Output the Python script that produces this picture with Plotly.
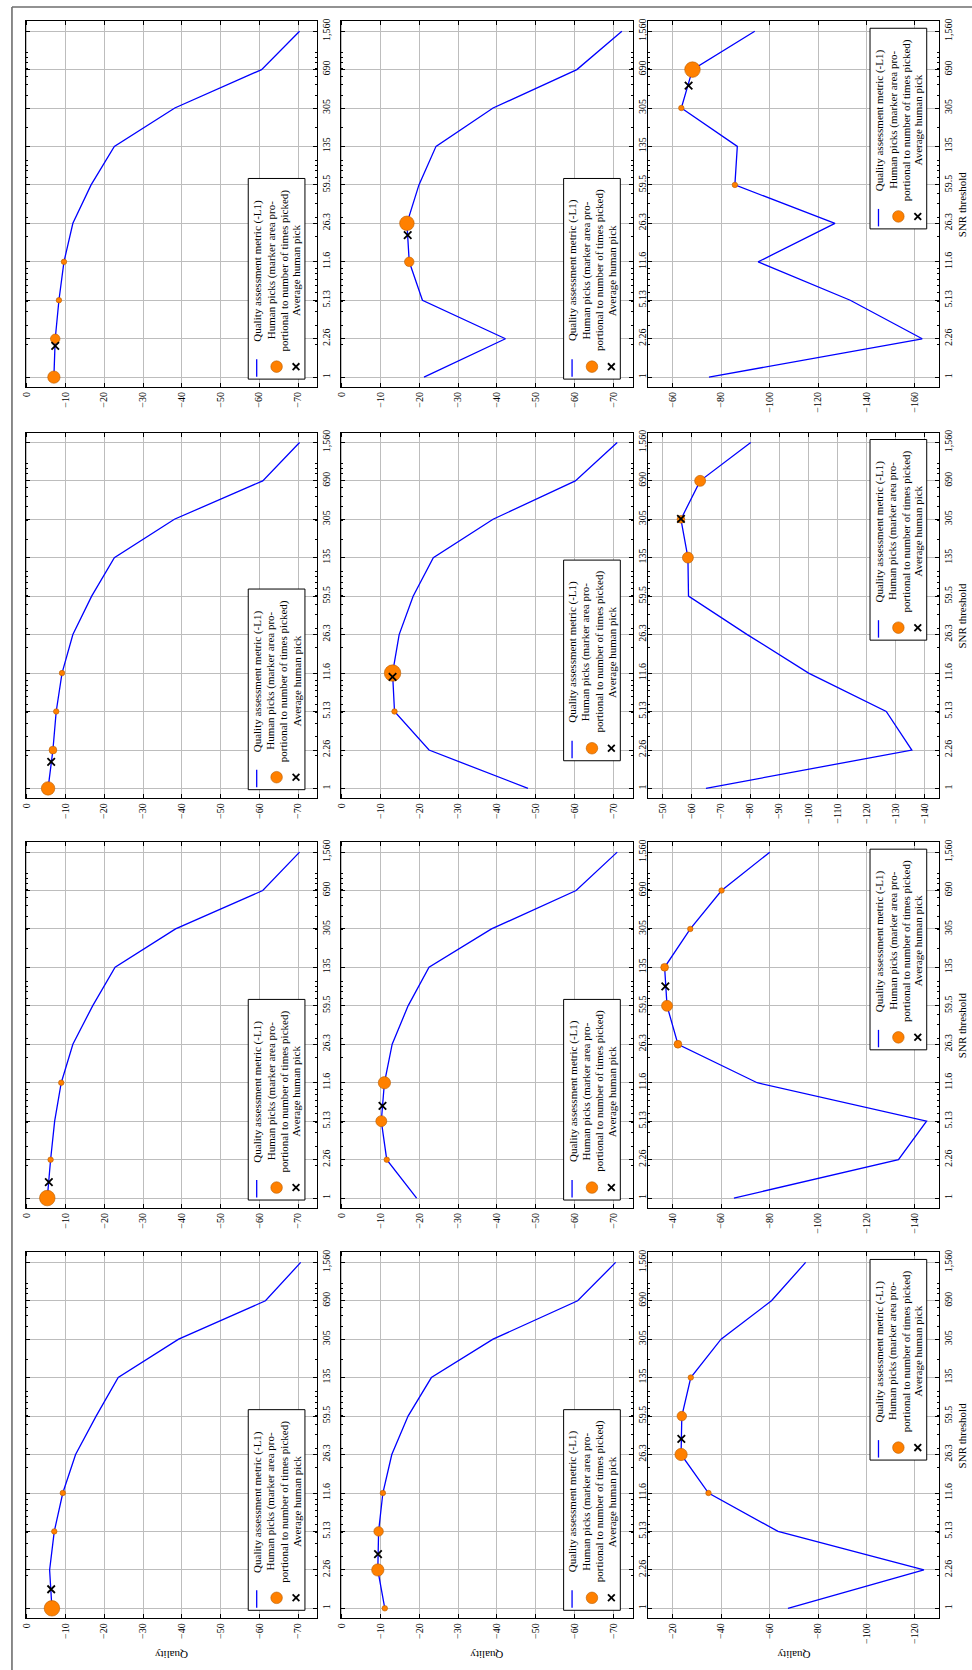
import plotly.graph_objects as go

W, H = 972, 1670
SERIF = "Liberation Serif"

# SNR thresholds (log axis) and their printed labels
snr = [1, 2.26, 5.13, 11.6, 26.3, 59.5, 135, 305, 690, 1560]
snr_labels = ["1", "2.26", "5.13", "11.6", "26.3", "59.5", "135", "305", "690", "1,560"]

# Quality assessment metric (-L1) per panel, panels numbered left->right, top->bottom
q_p1 = [-7.0, -7.35, -8.3, -9.6, -11.9, -16.6, -22.6, -38.2, -60.6, -70.4]
q_p2 = [-21.2, -42.2, -20.8, -17.4, -16.8, -19.9, -24.3, -39.0, -60.6, -72.2]
q_p3 = [-75.0, -163.0, -133.3, -95.3, -127.0, -85.7, -86.7, -63.6, -68.2, -93.9]
q_p4 = [-5.5, -6.75, -7.6, -9.1, -11.9, -16.75, -22.6, -38.1, -60.9, -70.4]
q_p5 = [-48.0, -22.5, -13.6, -13.1, -14.8, -18.4, -23.6, -39.0, -60.2, -71.0]
q_p6 = [-64.8, -135.6, -126.8, -100.1, -79.0, -58.8, -58.6, -56.2, -62.8, -80.2]
q_p7 = [-5.3, -6.15, -7.2, -8.9, -11.9, -17.0, -22.8, -38.4, -60.9, -70.4]
q_p8 = [-19.3, -11.6, -10.2, -11.0, -13.0, -17.1, -22.5, -38.6, -60.4, -71.0]
q_p9 = [-65.3, -133.2, -144.8, -74.9, -42.2, -37.7, -36.7, -47.3, -60.2, -80.1]
q_p10 = [-6.5, -5.9, -7.1, -9.3, -12.6, -17.9, -23.6, -39.2, -61.6, -70.7]
q_p11 = [-11.1, -9.3, -9.5, -10.6, -12.9, -17.1, -23.1, -39.0, -60.8, -70.6]
q_p12 = [-67.6, -123.7, -63.5, -34.8, -23.5, -23.8, -27.5, -40.0, -60.8, -74.9]

# Human picks: index of the picked threshold and number of times picked
pick_idx_p1, pick_n_p1 = [0, 1, 2, 3], [5, 3, 1, 1]
pick_idx_p2, pick_n_p2 = [3, 4], [3, 7]
pick_idx_p3, pick_n_p3 = [5, 7, 8], [1, 1, 8]
pick_idx_p4, pick_n_p4 = [0, 1, 2, 3], [6, 2, 1, 1]
pick_idx_p5, pick_n_p5 = [2, 3], [1, 9]
pick_idx_p6, pick_n_p6 = [6, 7, 8], [4, 2, 4]
pick_idx_p7, pick_n_p7 = [0, 1, 3], [8, 1, 1]
pick_idx_p8, pick_n_p8 = [1, 2, 3], [1, 4, 5]
pick_idx_p9, pick_n_p9 = [4, 5, 6, 7, 8], [2, 4, 2, 1, 1]
pick_idx_p10, pick_n_p10 = [0, 2, 3], [8, 1, 1]
pick_idx_p11, pick_n_p11 = [0, 1, 2, 3], [1, 5, 3, 1]
pick_idx_p12, pick_n_p12 = [3, 4, 5, 6], [1, 5, 3, 1]

# Average human pick (SNR, quality)
avg_p1 = (1.94, -7.35)
avg_p2 = (20.5, -17.0)
avg_p3 = (492, -66.6)
avg_p4 = (1.76, -6.3)
avg_p5 = (10.7, -13.1)
avg_p6 = (307, -56.2)
avg_p7 = (1.40, -5.7)
avg_p8 = (7.10, -10.5)
avg_p9 = (90.0, -37.0)
avg_p10 = (1.50, -6.3)
avg_p11 = (3.16, -9.35)
avg_p12 = (36.7, -23.6)

curves = [q_p1, q_p2, q_p3, q_p4, q_p5, q_p6, q_p7, q_p8, q_p9, q_p10, q_p11, q_p12]
pick_idx = [pick_idx_p1, pick_idx_p2, pick_idx_p3, pick_idx_p4, pick_idx_p5, pick_idx_p6,
            pick_idx_p7, pick_idx_p8, pick_idx_p9, pick_idx_p10, pick_idx_p11, pick_idx_p12]
pick_n = [pick_n_p1, pick_n_p2, pick_n_p3, pick_n_p4, pick_n_p5, pick_n_p6,
          pick_n_p7, pick_n_p8, pick_n_p9, pick_n_p10, pick_n_p11, pick_n_p12]
averages = [avg_p1, avg_p2, avg_p3, avg_p4, avg_p5, avg_p6,
            avg_p7, avg_p8, avg_p9, avg_p10, avg_p11, avg_p12]

# quality-axis range and tick step per panel
q_ranges = [[0.3, -75], [0.3, -75], [-50, -170],
            [0.3, -75], [0.3, -75], [-45, -145],
            [0.3, -75], [0.3, -75], [-30, -150],
            [0.3, -75], [0.3, -75], [-10, -130]]
q_steps = [10, 10, 20, 10, 10, 10, 10, 10, 20, 10, 10, 20]

# panel frames in pixels
COLS = [(20.7, 314.0), (337.3, 631.0), (646.7, 939.0)]
ROW_TOP = [18.3, 430.3, 840.7, 1251.7]
PANEL_H = 366.5

# legend placement: (edge, inset in px)
legend_place = [("bottom", 8), ("bottom", 8), ("top", 7),
                ("bottom", 8.7), ("bottom", 37.7), ("top", 7),
                ("bottom", 8), ("bottom", 8), ("top", 7),
                ("bottom", 8), ("bottom", 8), ("top", 7)]

snr_minor = [m * 10 ** e for e in range(4) for m in range(1, 10)
             if 1 < m * 10 ** e < 1900]

BLUE = "#0000ff"
ORANGE = "#ff8000"
ORANGE_EDGE = "#b85c00"
GRID = "#bdbdbd"
SIZEREF = 1 / 15.125


def px(x):
    return x / W


def py(y):
    return 1 - y / H


fig = go.Figure()
shapes = []
annotations = []
layout_axes = {}

for i in range(12):
    r, c = divmod(i, 3)
    n = i + 1
    xa = "x" if n == 1 else f"x{n}"
    ya = "y" if n == 1 else f"y{n}"
    x0, x1 = COLS[c]
    y0 = ROW_TOP[r]
    y1 = y0 + PANEL_H

    q = curves[i]
    fig.add_trace(go.Scatter(x=q, y=snr, mode="lines", xaxis=xa, yaxis=ya,
                             line=dict(color=BLUE, width=1.3), hoverinfo="skip"))
    fig.add_trace(go.Scatter(
        x=[q[k] for k in pick_idx[i]], y=[snr[k] for k in pick_idx[i]],
        mode="markers", xaxis=xa, yaxis=ya,
        marker=dict(size=pick_n[i], sizemode="area", sizeref=SIZEREF, color=ORANGE,
                    opacity=1, line=dict(color=ORANGE_EDGE, width=0.6))))
    a_snr, a_q = averages[i]
    fig.add_trace(go.Scatter(
        x=[a_q], y=[a_snr], mode="markers", xaxis=xa, yaxis=ya,
        marker=dict(symbol="x-thin", size=7.5, opacity=1,
                    line=dict(color="black", width=1.8))))

    axis_font = dict(family=SERIF, size=10, color="black")
    layout_axes["xaxis" if n == 1 else f"xaxis{n}"] = dict(
        domain=[px(x0), px(x1)], anchor=ya, range=q_ranges[i],
        tickmode="linear", tick0=0, dtick=q_steps[i], tickangle=-90,
        ticks="inside", ticklen=4, tickcolor="black", tickwidth=0.8,
        showline=True, linecolor="black", linewidth=1, mirror="allticks",
        showgrid=True, gridcolor=GRID, gridwidth=0.9, zeroline=False,
        tickfont=axis_font, fixedrange=True)
    layout_axes["yaxis" if n == 1 else f"yaxis{n}"] = dict(
        domain=[py(y1), py(y0)], anchor=xa, type="log", range=[-0.092, 3.285],
        tickmode="array", tickvals=snr, ticktext=snr_labels, side="right",
        tickangle=-90, ticks="inside", ticklen=4, tickcolor="black", tickwidth=0.8,
        showline=True, linecolor="black", linewidth=1, mirror="allticks",
        showgrid=True, gridcolor=GRID, gridwidth=0.9, zeroline=False,
        minor=dict(tickmode="array", tickvals=snr_minor, ticks="inside", ticklen=2,
                   tickcolor="black", tickwidth=0.6, showgrid=False),
        tickfont=axis_font, fixedrange=True)

    # legend box (drawn rotated with the panel)
    lw, lh = 57, 201
    lx1 = x1 - 12.5
    lx0 = lx1 - lw
    edge, inset = legend_place[i]
    if edge == "bottom":
        lb = y1 - inset
        lt = lb - lh
    else:
        lt = y0 + inset
        lb = lt + lh
    shapes.append(dict(type="rect", xref="paper", yref="paper",
                       x0=px(lx0), x1=px(lx1), y0=py(lb), y1=py(lt),
                       line=dict(color="black", width=1), fillcolor="white", layer="above"))
    shapes.append(dict(type="line", xref="paper", yref="paper",
                       x0=px(lx0 + 8.5), x1=px(lx0 + 8.5), y0=py(lb - 2.5), y1=py(lb - 20),
                       line=dict(color=BLUE, width=1.3), layer="above"))
    cx, cy, rad = lx0 + 28.5, lb - 12.5, 5.8
    shapes.append(dict(type="circle", xref="paper", yref="paper",
                       x0=px(cx - rad), x1=px(cx + rad), y0=py(cy + rad), y1=py(cy - rad),
                       line=dict(color=ORANGE_EDGE, width=0.6), fillcolor=ORANGE, layer="above"))
    mx, my, hs = lx0 + 48, lb - 12.5, 3.4
    for s in (1, -1):
        shapes.append(dict(type="line", xref="paper", yref="paper",
                           x0=px(mx - hs), x1=px(mx + hs), y0=py(my - s * hs), y1=py(my + s * hs),
                           line=dict(color="black", width=1.8), layer="above"))
    entries = ["Quality assessment metric (-L1)", "Human picks (marker area pro-",
               "portional to number of times picked)", "Average human pick"]
    for off, txt in zip([9.2, 22.8, 36.2, 48.6], entries):
        annotations.append(dict(text=txt, x=px(lx0 + off), y=py(lb - 109),
                                xref="paper", yref="paper", showarrow=False,
                                textangle=-90, xanchor="center", yanchor="middle",
                                font=dict(family=SERIF, size=11, color="black")))

    if r == 3:
        annotations.append(dict(text="Quality", x=px((x0 + x1) / 2), y=py(1655),
                                xref="paper", yref="paper", showarrow=False,
                                textangle=180, xanchor="center", yanchor="middle",
                                font=dict(family=SERIF, size=11, color="black")))
    if c == 2:
        annotations.append(dict(text="SNR threshold", x=px(962), y=py((y0 + y1) / 2),
                                xref="paper", yref="paper", showarrow=False,
                                textangle=-90, xanchor="center", yanchor="middle",
                                font=dict(family=SERIF, size=11, color="black")))

# page border
shapes.append(dict(type="line", xref="paper", yref="paper", x0=px(7), x1=1,
                   y0=py(4), y1=py(4), line=dict(color="#6e6e6e", width=1.6)))
shapes.append(dict(type="line", xref="paper", yref="paper", x0=px(7), x1=px(7),
                   y0=py(4), y1=0, line=dict(color="#6e6e6e", width=1.6)))

fig.update_layout(width=W, height=H, margin=dict(l=0, r=0, t=0, b=0),
                  paper_bgcolor="white", plot_bgcolor="white", showlegend=False,
                  shapes=shapes, annotations=annotations, **layout_axes)

fig.write_html("out.html")
